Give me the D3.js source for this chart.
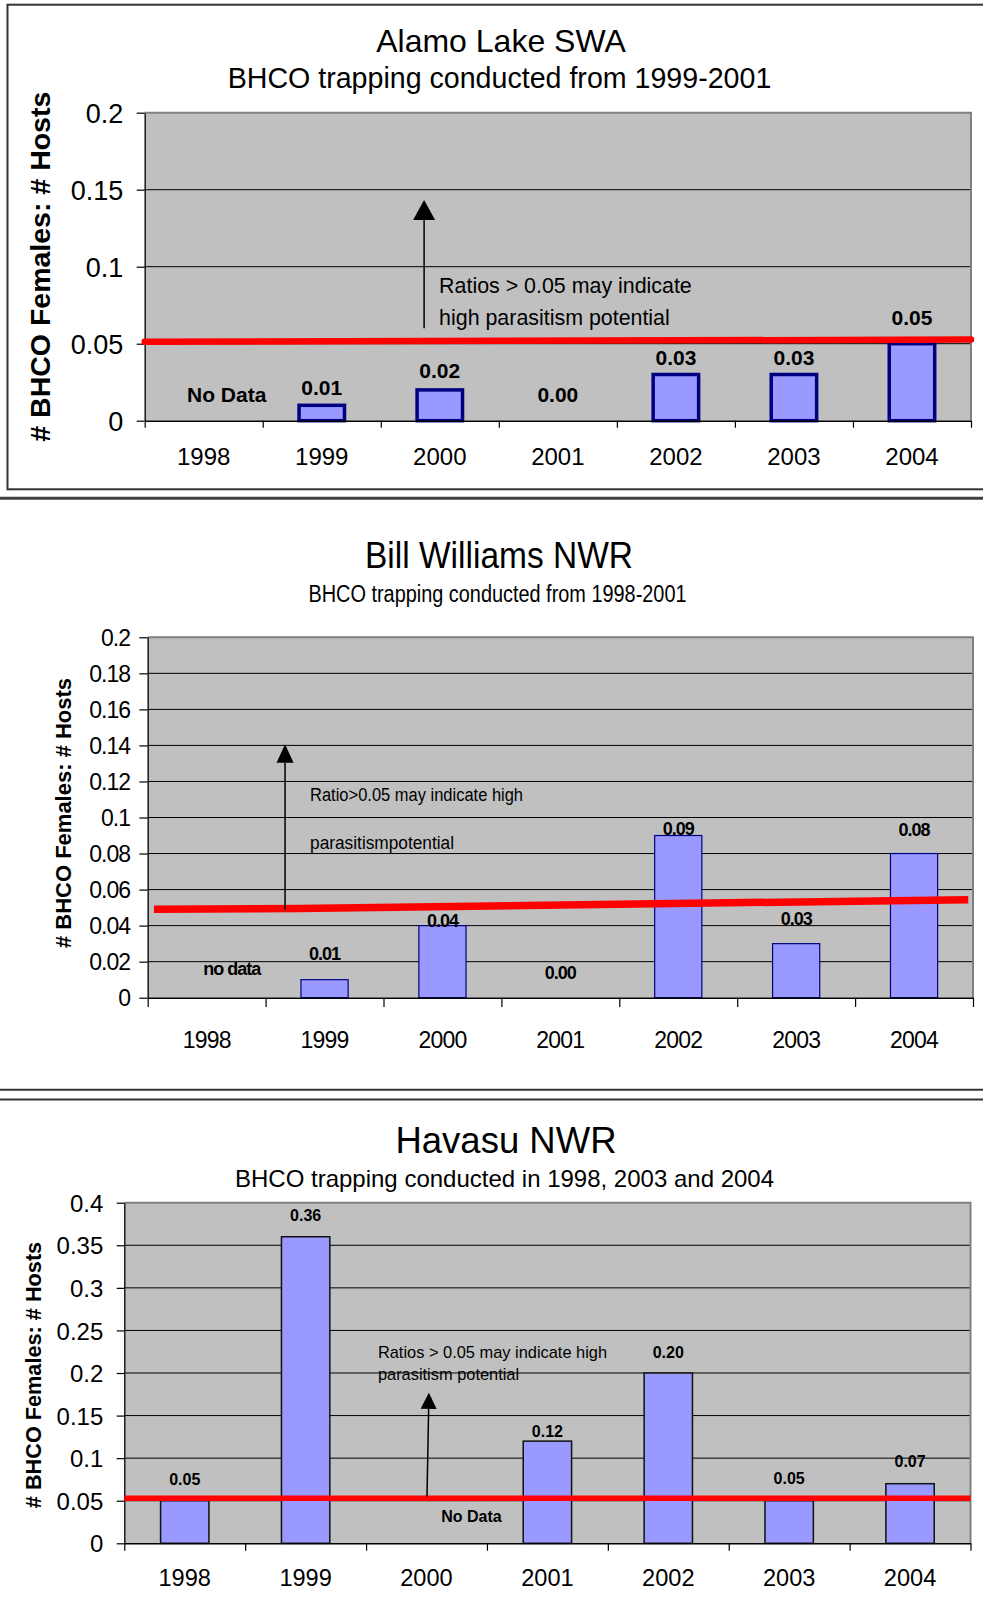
<!DOCTYPE html>
<html><head><meta charset="utf-8">
<script src="https://cdn.jsdelivr.net/npm/d3@7"></script>
<style>
body{margin:0;background:#fff}
svg{display:block}
text{font-family:"Liberation Sans",Arial,sans-serif;fill:#000}
</style>
</head><body>
<svg id="c" width="983" height="1621"></svg>
<script>
// ---------------- DATA ----------------
const years = ["1998", "1999", "2000", "2001", "2002", "2003", "2004"];

// Alamo Lake SWA
const alamoValues = [null, 0.01, 0.02, 0, 0.03, 0.03, 0.05];
const alamoLabels = ["No Data", "0.01", "0.02", "0.00", "0.03", "0.03", "0.05"];
const alamoTicks = [0, 0.05, 0.1, 0.15, 0.2];
const alamoTickLabels = ["0", "0.05", "0.1", "0.15", "0.2"];
const alamoThreshold = [[0, 0.0512], [7, 0.0527]];   // [category position, ratio]

// Bill Williams NWR
const billValues = [null, 0.01, 0.04, 0, 0.09, 0.03, 0.08];
const billLabels = ["no data", "0.01", "0.04", "0.00", "0.09", "0.03", "0.08"];
const billTicks = [0, 0.02, 0.04, 0.06, 0.08, 0.1, 0.12, 0.14, 0.16, 0.18, 0.2];
const billTickLabels = ["0", "0.02", "0.04", "0.06", "0.08", "0.1", "0.12", "0.14", "0.16", "0.18", "0.2"];
const billThreshold = [[0.053, 0.0491], [1.29, 0.0495], [6.96, 0.0544]];

// Havasu NWR
const havasuValues = [0.05, 0.36, null, 0.12, 0.20, 0.05, 0.07];
const havasuLabels = ["0.05", "0.36", "No Data", "0.12", "0.20", "0.05", "0.07"];
const havasuTicks = [0, 0.05, 0.1, 0.15, 0.2, 0.25, 0.3, 0.35, 0.4];
const havasuTickLabels = ["0", "0.05", "0.1", "0.15", "0.2", "0.25", "0.3", "0.35", "0.4"];
const havasuThreshold = [[0, 0.0528], [7, 0.0528]];

const yTitle = "# BHCO Females: # Hosts";

// ---------------- DRAWING ----------------
const svg = d3.select("#c");
svg.append("rect").attr("width", 983).attr("height", 1621).attr("fill", "#fff");

function drawChart(c) {
  const g = svg.append("g");
  const x = d3.scaleBand().domain(years).range([c.left, c.right]);
  const xc = d3.scaleLinear().domain([0, years.length]).range([c.left, c.right]);
  const y = d3.scaleLinear().domain([0, c.yMax]).range([c.bottom, c.top]);

  // plot background
  g.append("rect").attr("x", c.left).attr("y", c.top)
    .attr("width", c.right - c.left).attr("height", c.bottom - c.top).attr("fill", "#C0C0C0");

  // gridlines
  g.selectAll(".grid").data(c.ticks.filter(t => t > 0 && t < c.yMax)).join("line")
    .attr("x1", c.left).attr("x2", c.right)
    .attr("y1", d => y(d)).attr("y2", d => y(d))
    .attr("stroke", "#000").attr("stroke-width", 1);

  // plot top/right border
  g.append("path")
    .attr("d", `M${c.left},${y(c.yMax)}H${c.right}V${y(0)}`)
    .attr("fill", "none").attr("stroke", "#808080").attr("stroke-width", 2);

  // bars
  const bw = x.bandwidth() * c.barFrac;
  g.selectAll(".bar").data(c.values.map((v, i) => ({v, year: years[i]})).filter(d => d.v)).join("rect")
    .attr("x", d => x(d.year) + (x.bandwidth() - bw) / 2)
    .attr("y", d => y(d.v))
    .attr("width", bw)
    .attr("height", d => y(0) - y(d.v))
    .attr("fill", "#9999FF").attr("stroke", c.barStroke).attr("stroke-width", c.barStrokeW);

  // axes
  const yAxis = d3.axisLeft(y).tickValues(c.ticks).tickSize(c.yTickLen).tickSizeOuter(0)
    .tickPadding(c.yTickGap - c.yTickLen).tickFormat((d, i) => c.tickLabels[i]);
  const ya = g.append("g").attr("transform", `translate(${c.left},0)`).call(yAxis);
  ya.select(".domain").attr("stroke", "#000").attr("stroke-width", 1.3);
  ya.selectAll(".tick line").attr("stroke", "#000").attr("stroke-width", 1.2);
  ya.selectAll(".tick text").attr("font-size", c.tickFont).attr("dy", "0.36em")
    .attr("font-family", '"Liberation Sans",Arial,sans-serif')
    .style("letter-spacing", c.tickSpacing || "0px");

  const xAxis = d3.axisBottom(xc).tickValues(d3.range(0, years.length + 1))
    .tickSize(c.xTickLen).tickSizeOuter(0).tickFormat("");
  const xa = g.append("g").attr("transform", `translate(0,${c.bottom})`).call(xAxis);
  xa.select(".domain").attr("stroke", "#000").attr("stroke-width", 1.5);
  xa.selectAll(".tick line").attr("stroke", "#000").attr("stroke-width", 1.2);

  g.selectAll(".xl").data(years).join("text")
    .attr("x", d => x(d) + x.bandwidth() / 2).attr("y", c.xLabelY)
    .attr("text-anchor", "middle").attr("font-size", c.xLabelFont)
    .style("letter-spacing", c.xSpacing || "0px")
    .text(d => d);

  // threshold line
  g.append("path").datum(c.threshold)
    .attr("d", d3.line().x(d => xc(d[0])).y(d => y(d[1])))
    .attr("fill", "none").attr("stroke", "#FF0000").attr("stroke-width", c.redW)
    .attr("stroke-linecap", c.redCap);

  // arrow
  const ax1 = xc(c.arrow[0][0]), ay1 = y(c.arrow[0][1]);
  const ax2 = xc(c.arrow[1][0]), ay2 = y(c.arrow[1][1]);
  const len = Math.hypot(ax2 - ax1, ay2 - ay1);
  const ux = (ax2 - ax1) / len, uy = (ay2 - ay1) / len;
  const bx = ax2 - ux * c.headLen, by = ay2 - uy * c.headLen;
  g.append("line").attr("x1", ax1).attr("y1", ay1).attr("x2", bx).attr("y2", by)
    .attr("stroke", "#000").attr("stroke-width", 1.5);
  g.append("path")
    .attr("d", `M${ax2},${ay2}L${bx - uy * c.headW / 2},${by + ux * c.headW / 2}L${bx + uy * c.headW / 2},${by - ux * c.headW / 2}Z`)
    .attr("fill", "#000");

  // annotation
  c.note.forEach((t, i) => {
    const tt = g.append("text").attr("x", xc(c.noteX)).attr("y", y(c.noteY[i]))
      .attr("font-size", c.noteFont).text(t);
    if (c.noteLen) tt.attr("textLength", c.noteLen[i]).attr("lengthAdjust", "spacingAndGlyphs");
  });

  // data labels
  g.selectAll(".dl").data(c.labels.map((l, i) => ({l, i}))).join("text")
    .attr("x", d => x(years[d.i]) + x.bandwidth() / 2 + (c.values[d.i] === null ? c.noDataDx : 0))
    .attr("y", d => y(c.values[d.i] || 0) - c.labelOff[d.i])
    .attr("text-anchor", "middle").attr("font-weight", "bold").attr("font-size", c.labelFont)
    .style("letter-spacing", c.labelSpacing || "0px")
    .text(d => d.l);

  // titles
  const t1 = g.append("text").attr("x", c.titleX).attr("y", c.titleY).attr("text-anchor", "middle")
    .attr("font-size", c.titleFont).text(c.title);
  if (c.titleLen) t1.attr("textLength", c.titleLen).attr("lengthAdjust", "spacingAndGlyphs");
  const t2 = g.append("text").attr("x", c.subX).attr("y", c.subY).attr("text-anchor", "middle")
    .attr("font-size", c.subFont).text(c.subtitle);
  if (c.subLen) t2.attr("textLength", c.subLen).attr("lengthAdjust", "spacingAndGlyphs");

  // y title
  g.append("text").attr("transform", `translate(${c.yTitleX},${c.yTitleY}) rotate(-90)`)
    .attr("text-anchor", "middle").attr("font-weight", "bold").attr("font-size", c.yTitleFont)
    .text(yTitle);
}

// chart 1 frame and separators
svg.append("rect").attr("x", 7.5).attr("y", 4.7).attr("width", 1000).attr("height", 484.6)
  .attr("fill", "none").attr("stroke", "#333").attr("stroke-width", 2);
svg.append("line").attr("x1", 0).attr("x2", 983).attr("y1", 498.3).attr("y2", 498.3)
  .attr("stroke", "#404040").attr("stroke-width", 3);
svg.append("line").attr("x1", 0).attr("x2", 983).attr("y1", 1089.8).attr("y2", 1089.8)
  .attr("stroke", "#333").attr("stroke-width", 2);
svg.append("line").attr("x1", 0).attr("x2", 983).attr("y1", 1099.5).attr("y2", 1099.5)
  .attr("stroke", "#333").attr("stroke-width", 2);

drawChart({
  left: 144.7, right: 971, top: 112.7, bottom: 420.7, yMax: 0.2,
  values: alamoValues, labels: alamoLabels, ticks: alamoTicks, tickLabels: alamoTickLabels,
  threshold: alamoThreshold,
  title: "Alamo Lake SWA", titleX: 501, titleY: 52, titleFont: 32,
  subtitle: "BHCO trapping conducted from 1999-2001", subX: 499.5, subY: 88, subFont: 28.6,
  yTitleX: 49.5, yTitleY: 266.7, yTitleFont: 28.5,
  tickFont: 27, yTickGap: 21.4, yTickLen: 8,
  xLabelFont: 24, xLabelY: 465, xTickLen: 7,
  barFrac: 0.385, barStroke: "#000080", barStrokeW: 3.5,
  labelFont: 21, labelOff: [18.7, 10.3, 12, 18.7, 9.5, 9.5, 18.7], noDataDx: 23,
  redW: 6.5, redCap: "round",
  arrow: [[2.367, 0.06], [2.367, 0.1433]], headLen: 20, headW: 22,
  note: ["Ratios > 0.05 may indicate", "high parasitism potential"], noteX: 2.494, noteY: [0.0828, 0.0621], noteFont: 21.4
});

drawChart({
  left: 147.7, right: 973, top: 637.3, bottom: 997.7, yMax: 0.2,
  values: billValues, labels: billLabels, ticks: billTicks, tickLabels: billTickLabels,
  threshold: billThreshold,
  title: "Bill Williams NWR", titleX: 499, titleY: 568.3, titleFont: 37, titleLen: 268,
  subtitle: "BHCO trapping conducted from 1998-2001", subX: 497.5, subY: 601.7, subFont: 23, subLen: 378,
  yTitleX: 71, yTitleY: 813, yTitleFont: 22,
  tickFont: 23, yTickGap: 17.7, yTickLen: 8.4, tickSpacing: "-1px",
  xLabelFont: 23, xLabelY: 1048, xTickLen: 9.3, xSpacing: "-0.8px",
  barFrac: 0.4, barStroke: "#000080", barStrokeW: 1.2,
  labelFont: 18, labelOff: [22.7, 19.7, -1, 18.7, 1, 18.2, 18], noDataDx: 25, labelSpacing: "-1px",
  redW: 7.5, redCap: "butt",
  arrow: [[1.165, 0.049], [1.165, 0.1406]], headLen: 18.5, headW: 17,
  note: ["Ratio>0.05 may indicate high", "parasitismpotential"], noteX: 1.377, noteY: [0.1092, 0.0826], noteFont: 18, noteLen: [213, 144]
});

drawChart({
  left: 124.3, right: 970.5, top: 1202.7, bottom: 1543.3, yMax: 0.4,
  values: havasuValues, labels: havasuLabels, ticks: havasuTicks, tickLabels: havasuTickLabels,
  threshold: havasuThreshold,
  title: "Havasu NWR", titleX: 506, titleY: 1153.3, titleFont: 36.5,
  subtitle: "BHCO trapping conducted in 1998, 2003 and 2004", subX: 504.5, subY: 1186.8, subFont: 24,
  yTitleX: 40.5, yTitleY: 1375, yTitleFont: 21.7,
  tickFont: 24, yTickGap: 21, yTickLen: 7.6,
  xLabelFont: 23.6, xLabelY: 1586, xTickLen: 7.4,
  barFrac: 0.4, barStroke: "#111", barStrokeW: 1.5,
  labelFont: 16, labelOff: [15.7, 16, 21, 4.5, 14.8, 16.4, 16.5], noDataDx: 45,
  redW: 5.5, redCap: "butt",
  arrow: [[2.504, 0.0547], [2.52, 0.1769]], headLen: 16.3, headW: 16,
  note: ["Ratios > 0.05 may indicate high", "parasitism potential"], noteX: 2.098, noteY: [0.2173, 0.1918], noteFont: 16.4
});
</script>
</body></html>
